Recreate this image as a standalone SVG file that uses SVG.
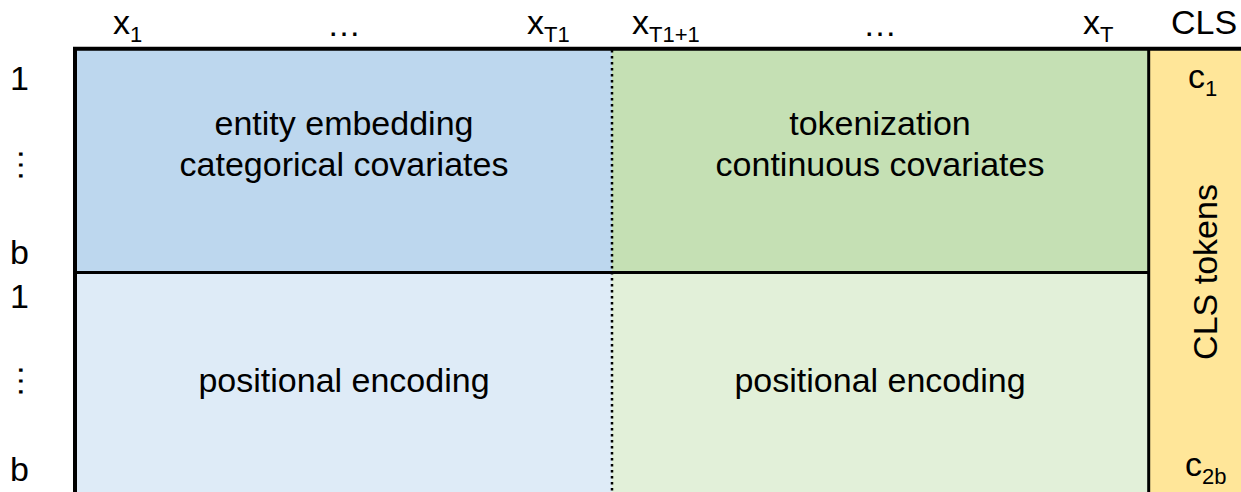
<svg xmlns="http://www.w3.org/2000/svg" width="1241" height="492" viewBox="0 0 1241 492">
<style>
text{font-family:"Liberation Sans",Arial,sans-serif;font-size:34px;fill:#000}
.c{text-anchor:middle}
.sub{font-size:22px}
.sep{stroke:#000;stroke-width:3;fill:none}
</style>
<rect width="1241" height="492" fill="#fff"/>
<g id="header">
<text x="113" y="34">x<tspan class="sub" dy="8">1</tspan></text>
<text x="344" y="36" class="c">…</text>
<text x="527" y="34">x<tspan class="sub" dy="8">T1</tspan></text>
<text x="632" y="34">x<tspan class="sub" dy="8">T1+1</tspan></text>
<text x="880" y="36" class="c">…</text>
<text x="1083" y="34">x<tspan class="sub" dy="8">T</tspan></text>
<text x="1204" y="34" class="c">CLS</text>
</g>
<g id="rows">
<text x="10" y="90">1</text>
<text transform="translate(19,165) rotate(90)" class="c">…</text>
<text x="10" y="264">b</text>
<text x="10" y="308">1</text>
<text transform="translate(19,381) rotate(90)" class="c">…</text>
<text x="10" y="481">b</text>
</g>
<g id="entity">
<rect x="75" y="48.5" width="537" height="224" fill="#BDD7EE"/>
<text x="344" y="135" class="c">entity embedding</text>
<text x="344" y="176" class="c">categorical covariates</text>
</g>
<g id="tokenization">
<rect x="612" y="48.5" width="537" height="224" fill="#C5E0B4"/>
<text x="880" y="135" class="c">tokenization</text>
<text x="880" y="176" class="c">continuous covariates</text>
</g>
<g id="pos-cat">
<rect x="75" y="272.5" width="537" height="230" fill="#DEEBF7"/>
<text x="344" y="392" class="c">positional encoding</text>
</g>
<g id="pos-cont">
<rect x="612" y="272.5" width="537" height="230" fill="#E2F0D9"/>
<text x="880" y="392" class="c">positional encoding</text>
</g>
<g id="cls">
<rect x="1149" y="48.5" width="100" height="454" fill="#FFE699"/>
<text x="1188" y="88">c<tspan class="sub" dy="8">1</tspan></text>
<text transform="translate(1217,272) rotate(-90)" class="c">CLS tokens</text>
<text x="1185" y="476">c<tspan class="sub" dy="8">2b</tspan></text>
</g>
<g id="connectors">
<line x1="75" y1="272.5" x2="1149" y2="272.5" class="sep"/>
<line x1="1148.7" y1="48.5" x2="1148.7" y2="492" class="sep"/>
<line x1="612" y1="50" x2="612" y2="492" stroke="#000" stroke-width="2.5" stroke-dasharray="2.5 3.5"/>
<path d="M75 492 V48.7 H1245" fill="none" stroke="#000" stroke-width="4"/>
</g>
</svg>
